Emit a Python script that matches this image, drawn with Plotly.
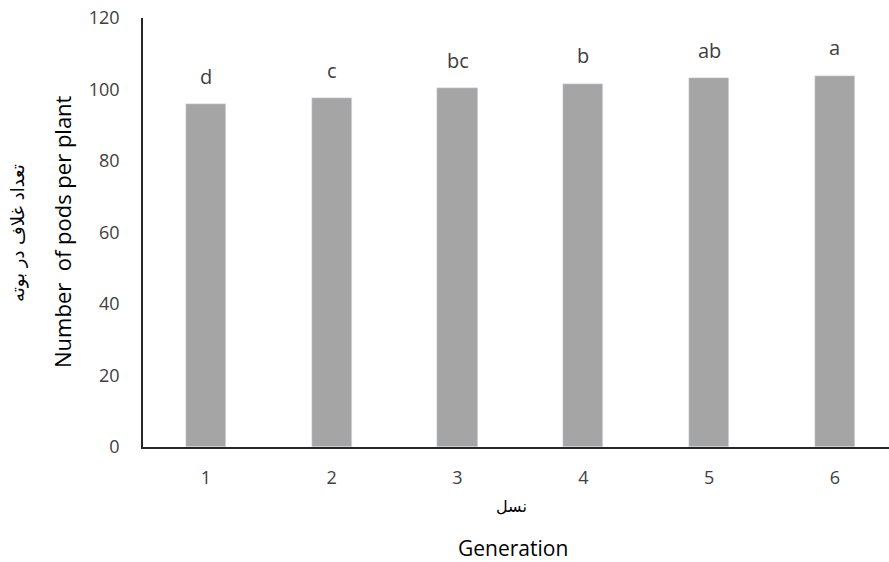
import plotly.graph_objects as go

generations = ["1", "2", "3", "4", "5", "6"]
pods = [95.9, 97.5, 100.3, 101.6, 103.1, 103.8]
letters = ["d", "c", "bc", "b", "ab", "a"]
y_ticks = [0, 20, 40, 60, 80, 100, 120]

W, H = 889, 562
L = 143
T = 18
plot_bottom = 447
plot_right = 889
R = W - plot_right
B = H - plot_bottom
pw, ph = W - L - R, H - T - B

def px(x):
    return (x - L) / pw

def py(y):
    return (plot_bottom - y) / ph

fig = go.Figure()
fig.add_trace(go.Bar(
    x=list(range(1, 7)), y=pods, marker_color="#a5a5a5", width=0.32,
    hoverinfo="skip",
))

annotations = []
for i, (v, t) in enumerate(zip(pods, letters)):
    annotations.append(dict(x=i + 1, y=v, xref="x", yref="y", text=t, showarrow=False,
                            yshift=28, font=dict(family="Open Sans", size=20, color="#404040")))

def ann(x, y, text, size, family, angle=0):
    return dict(x=px(x), y=py(y), xref="paper", yref="paper", text=text, textangle=angle,
                xanchor="center", yanchor="middle", showarrow=False,
                font=dict(family=family, size=size, color="#000000"))

annotations += [
    ann(62, 232, "Number  of pods per plant", 22, "Open Sans", -90),
    ann(18, 233, "تعداد غلاف در بوته", 18, "DejaVu Sans", -90),
    ann(511, 506, "نسل", 16, "DejaVu Sans"),
    ann(513, 548, "Generation", 21, "Open Sans"),
]

fig.update_layout(
    width=W, height=H, margin=dict(l=L, r=R, t=T, b=B, autoexpand=False),
    paper_bgcolor="white", plot_bgcolor="white", showlegend=False,
    annotations=annotations, bargap=0,
    xaxis=dict(range=[0.5, 0.5 + pw / 125.8], tickmode="array", tickvals=list(range(1, 7)),
               ticktext=generations, showline=True, linecolor="#262626", linewidth=1.5,
               showgrid=False, zeroline=False, ticks="", ticklabelstandoff=14,
               ticklabeloverflow="allow", automargin=False,
               tickfont=dict(family="Open Sans", size=18, color="#404040")),
    yaxis=dict(range=[0, 120], tickvals=y_ticks, showline=True, linecolor="#262626",
               linewidth=1.5, showgrid=False, zeroline=False, ticks="", ticklabelstandoff=18,
               ticklabeloverflow="allow", automargin=False,
               tickfont=dict(family="Open Sans", size=18, color="#404040")),
)

fig.write_html("out.html", config={"displayModeBar": False},
               post_script="document.body.style.margin='0';document.body.style.overflow='hidden';")
